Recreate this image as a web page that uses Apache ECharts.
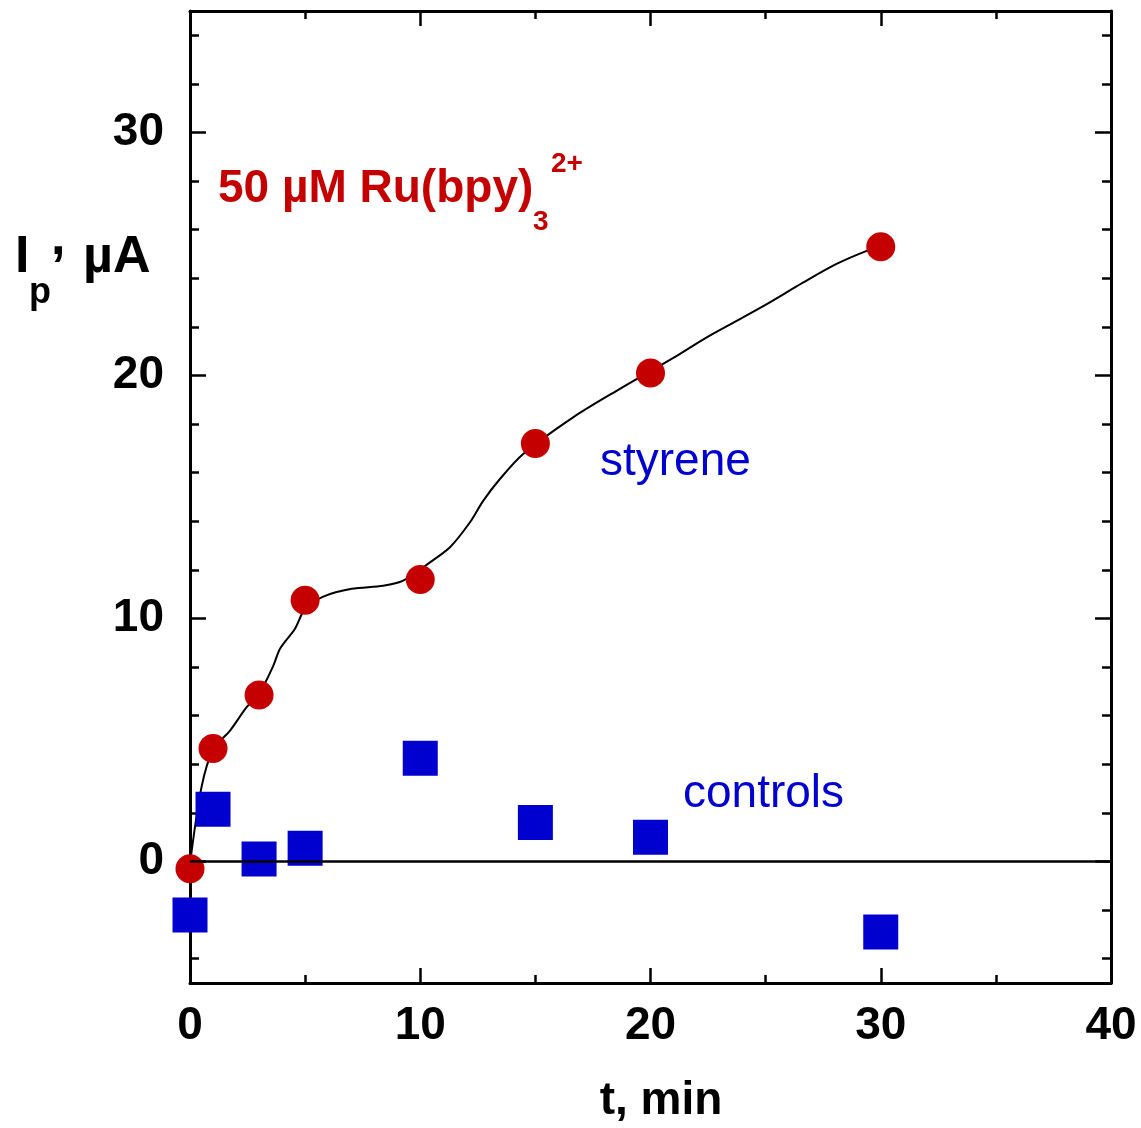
<!DOCTYPE html>
<html>
<head>
<meta charset="utf-8">
<script src="https://cdn.jsdelivr.net/npm/echarts@6/dist/echarts.min.js"></script>
<style>
  html, body { margin: 0; padding: 0; background: #fff; }
  #chart { width: 1141px; height: 1128px; }
</style>
</head>
<body>
<div id="chart"></div>
<script>
// Sampling times (min)
const timeMin = [0, 1, 3, 5, 10, 15, 20, 30];
// Peak current with styrene (µA)
const styreneIp = [-0.3, 4.65, 6.85, 10.75, 11.6, 17.2, 20.1, 25.3];
// Peak current for the controls (µA)
const controlsIp = [-2.2, 2.15, 0.1, 0.55, 4.25, 1.6, 1.0, -2.9];

// Trend curve through the styrene points
const trendT = [0, 0.5, 1.0, 1.74, 2.46, 3.0, 3.62, 3.91, 4.56, 5.0, 5.79, 7.02, 8.39, 9.26,
                10.42, 11.29, 12.16, 12.74, 13.46, 14.47, 16.64, 18.67, 21.14, 22.44, 23.74,
                25.05, 26.64, 28.08, 29.39, 30.0];
const trendIp = [-0.1, 3.06, 4.6, 5.39, 6.35, 6.9, 8.06, 8.76, 9.58, 10.4, 10.9, 11.22, 11.35, 11.56,
                 12.31, 12.93, 13.96, 14.85, 15.74, 16.77, 18.28, 19.45, 20.81, 21.57, 22.25,
                 22.94, 23.83, 24.59, 25.13, 25.3];

// Axis ticks and labels
const xLabels = [0, 10, 20, 30, 40];
const xMajorTicks = [10, 20, 30];
const xMinorTicks = [5, 15, 25, 35];
const yLabels = [0, 10, 20, 30];
const yMajorTicks = [0, 10, 20, 30];
const yMinorTicks = [-4, -2, 2, 4, 6, 8, 12, 14, 16, 18, 22, 24, 26, 28, 32, 34];

const FAMILY = '"Liberation Sans", Arial, Helvetica, sans-serif';
const RED = '#c40000';
const BLUE = '#0000cf';

const chart = echarts.init(document.getElementById('chart'), null, { renderer: 'canvas' });

function makeAxis(dim, position, ticks, tickLen, withLine, labels) {
  const range = dim === 'x' ? { min: 0, max: 40 } : { min: -5, max: 35 };
  return {
    type: 'value',
    gridIndex: 0,
    position: position,
    min: range.min,
    max: range.max,
    splitLine: { show: false },
    axisLine: { show: withLine, onZero: false, lineStyle: { color: '#000', width: 3 } },
    axisTick: {
      show: true, inside: true, length: tickLen, customValues: ticks,
      lineStyle: { color: '#000', width: 2.5 }
    },
    axisLabel: labels ? {
      show: true, customValues: labels,
      margin: dim === 'x' ? 20 : 26,
      fontFamily: FAMILY, fontWeight: 'bold', fontSize: 46, color: '#000'
    } : { show: false },
    axisPointer: { show: false }
  };
}

function label(text, x, y, size, color, weight, align) {
  return {
    type: 'text',
    x: x, y: y,
    z: 100,
    style: {
      text: text,
      font: (weight || 'normal') + ' ' + size + 'px ' + FAMILY,
      fill: color,
      align: align || 'left', textAlign: align || 'left',
      verticalAlign: 'middle', textVerticalAlign: 'middle'
    }
  };
}

const option = {
  animation: false,
  backgroundColor: '#fff',
  grid: { left: 190, right: 30, top: 11, bottom: 145, containLabel: false },
  xAxis: [
    makeAxis('x', 'bottom', xMajorTicks, 15, true, xLabels),
    makeAxis('x', 'bottom', xMinorTicks, 8, false, null),
    makeAxis('x', 'top', xMajorTicks, 15, true, null),
    makeAxis('x', 'top', xMinorTicks, 8, false, null)
  ],
  yAxis: [
    makeAxis('y', 'left', yMajorTicks, 16, true, yLabels),
    makeAxis('y', 'left', yMinorTicks, 9, false, null),
    makeAxis('y', 'right', yMajorTicks, 16, true, null),
    makeAxis('y', 'right', yMinorTicks, 9, false, null)
  ],
  series: [
    {
      name: 'trend',
      type: 'line',
      data: trendT.map((t, i) => [t, trendIp[i]]),
      symbol: 'none',
      smooth: 0.3,
      lineStyle: { color: '#000', width: 2 },
      z: 2,
      silent: true
    },
    {
      name: 'styrene',
      type: 'scatter',
      data: timeMin.map((t, i) => [t, styreneIp[i]]),
      symbol: 'circle',
      symbolSize: 29,
      itemStyle: { color: RED, opacity: 1 },
      clip: false,
      z: 3
    },
    {
      name: 'controls',
      type: 'scatter',
      data: timeMin.map((t, i) => [t, controlsIp[i]]),
      symbol: 'rect',
      symbolSize: 35,
      itemStyle: { color: BLUE, opacity: 1 },
      clip: false,
      z: 4
    },
    {
      name: 'zero',
      type: 'line',
      data: [],
      z: 6,
      markLine: {
        silent: true,
        symbol: ['none', 'none'],
        label: { show: false },
        lineStyle: { color: '#000', width: 2.5, type: 'solid' },
        data: [{ yAxis: 0 }]
      }
    }
  ],
  graphic: [
    label('50 \u00b5M Ru(bpy)', 218, 189, 46, RED, 'bold'),
    label('3', 533, 222, 28, RED, 'bold'),
    label('2+', 551, 164, 28, RED, 'bold'),
    label('I', 15, 258, 52, '#000', 'bold'),
    label('p', 29, 293, 36, '#000', 'bold'),
    label(',', 51, 240, 52, '#000', 'bold'),
    label('\u00b5A', 83, 258, 52, '#000', 'bold'),
    label('styrene', 600, 462, 46, BLUE, 'normal'),
    label('controls', 683, 794, 46, BLUE, 'normal'),
    label('t, min', 661, 1101, 46, '#000', 'bold', 'center')
  ]
};

chart.setOption(option);
</script>
</body>
</html>
